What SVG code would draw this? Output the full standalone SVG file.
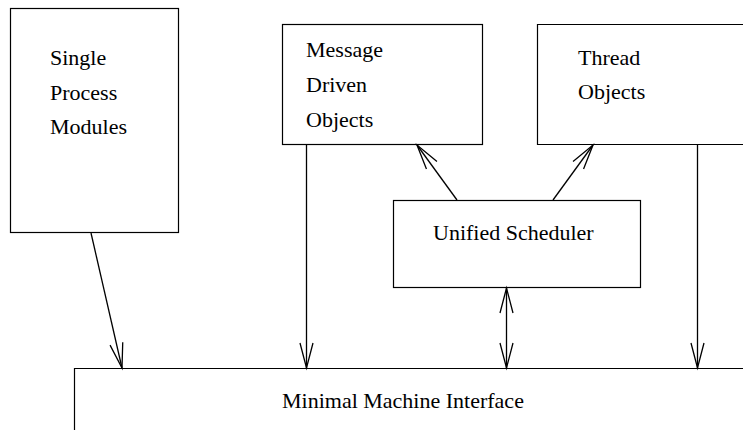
<svg xmlns="http://www.w3.org/2000/svg" width="743" height="430" viewBox="0 0 743 430">
  <style>
    .box { fill: #ffffff; stroke: #000000; stroke-width: 1.2; }
    .lbl { font-family: "Liberation Serif", "Times New Roman", serif; font-size: 22px; fill: #000000; }
    .conn { stroke: #000000; stroke-width: 1.3; fill: none; }
  </style>
  <defs>
    <marker id="vhead" markerUnits="userSpaceOnUse" markerWidth="30" markerHeight="20" viewBox="-27 -10 30 20" refX="0" refY="0" orient="auto-start-reverse">
      <path d="M-25,-6.5 L0,0 L-25,6.5" fill="none" stroke="#000000" stroke-width="1.3"/>
    </marker>
  </defs>

  <rect width="743" height="430" fill="#ffffff"/>

  <!-- Bottom layer, runs off the right and lower edges -->
  <g id="minimal-machine-interface">
    <path class="box" d="M74.5,432 L74.5,368.5 L745,368.5"/>
    <text class="lbl" x="282" y="408">Minimal Machine Interface</text>
  </g>

  <g id="single-process-modules">
    <rect class="box" x="10.5" y="8.5" width="168" height="224"/>
    <text class="lbl" x="50" y="65">Single</text>
    <text class="lbl" x="50" y="100">Process</text>
    <text class="lbl" x="50" y="134">Modules</text>
  </g>

  <g id="message-driven-objects">
    <rect class="box" x="282.5" y="24.5" width="200" height="120"/>
    <text class="lbl" x="306" y="57">Message</text>
    <text class="lbl" x="306" y="92">Driven</text>
    <text class="lbl" x="306" y="127">Objects</text>
  </g>

  <g id="thread-objects">
    <path class="box" d="M745,24.5 L537.5,24.5 L537.5,144.5 L745,144.5"/>
    <text class="lbl" x="578" y="65">Thread</text>
    <text class="lbl" x="578" y="99">Objects</text>
  </g>

  <g id="unified-scheduler">
    <rect class="box" x="393.5" y="200.5" width="247" height="87"/>
    <text class="lbl" x="433" y="240">Unified Scheduler</text>
  </g>

  <g id="connectors">
    <line class="conn" x1="91" y1="233" x2="122" y2="368" marker-end="url(#vhead)"/>
    <line class="conn" x1="306.5" y1="145" x2="306.5" y2="368" marker-end="url(#vhead)"/>
    <line class="conn" x1="697.5" y1="145" x2="697.5" y2="368" marker-end="url(#vhead)"/>
    <line class="conn" x1="506.5" y1="288" x2="506.5" y2="368" marker-start="url(#vhead)" marker-end="url(#vhead)"/>
    <line class="conn" x1="457" y1="200" x2="417" y2="145" marker-end="url(#vhead)"/>
    <line class="conn" x1="553" y1="200" x2="593" y2="145" marker-end="url(#vhead)"/>
  </g>
</svg>
